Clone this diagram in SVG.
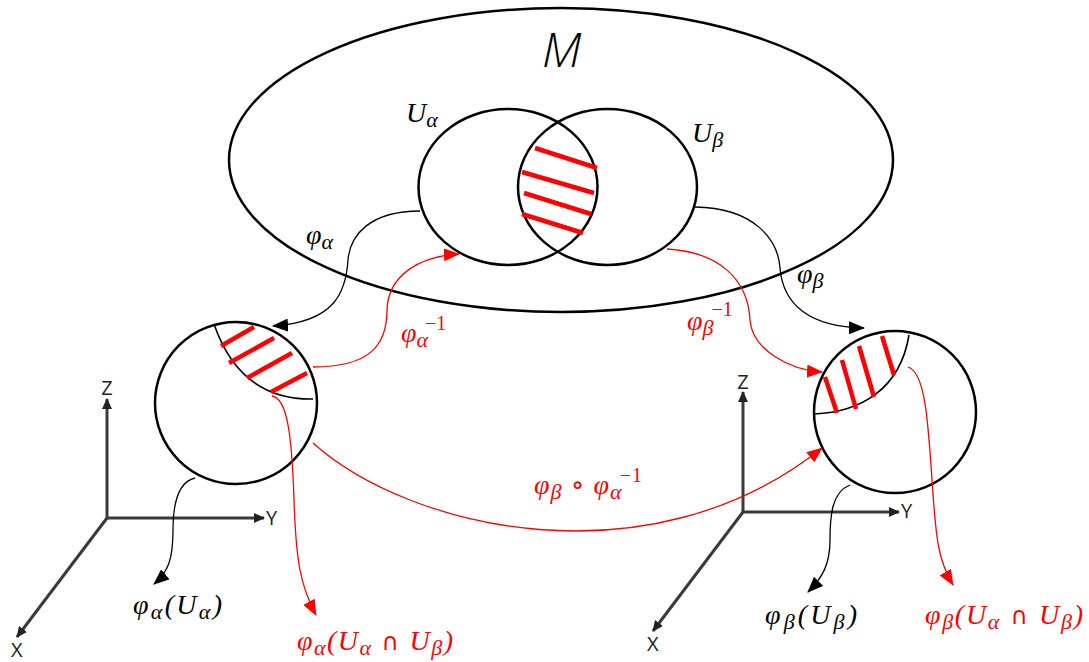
<svg xmlns="http://www.w3.org/2000/svg" width="1089" height="662" viewBox="0 0 1089 662">
<defs>
<style>
.shape{fill:none;stroke:#000;stroke-width:2.5}
.inner{fill:none;stroke:#000;stroke-width:1.6}
.hatch{stroke:#ff0000;stroke-width:4.5;stroke-linecap:butt}
.conb{fill:none;stroke:#000;stroke-width:1.3}
.conr{fill:none;stroke:#ff0000;stroke-width:1.3}
.axis{fill:none;stroke:#3a3a3a;stroke-width:3}
.math{font-family:"Liberation Serif","DejaVu Serif",serif;font-style:italic;font-size:28px}
.sub{font-size:22px}
.sup{font-size:20px;font-style:normal}
.op{font-family:"DejaVu Sans",sans-serif;font-style:normal;font-size:24px}
.axl{font-family:"Open Sans","Noto Sans",sans-serif;font-size:20px;fill:#222}
.red{fill:#ff0000}
</style>
<marker id="ab" markerWidth="16" markerHeight="13" refX="15" refY="6.5" orient="auto" markerUnits="userSpaceOnUse"><path d="M0,0 L16,6.5 L0,13 z" fill="#000"/></marker>
<marker id="ar" markerWidth="16" markerHeight="13" refX="15" refY="6.5" orient="auto" markerUnits="userSpaceOnUse"><path d="M0,0 L16,6.5 L0,13 z" fill="#ff0000"/></marker>
<marker id="ax" markerWidth="11" markerHeight="10" refX="10" refY="5" orient="auto" markerUnits="userSpaceOnUse"><path d="M0,0 L11,5 L0,10 z" fill="#222"/></marker>
</defs>
<rect width="1089" height="662" fill="#fff"/>

<g id="manifold">
<ellipse class="shape" cx="561" cy="160" rx="332" ry="152"/>
<text x="542" y="67" font-family="'Open Sans','Noto Sans',sans-serif" font-style="italic" font-size="48" font-weight="300">M</text>
</g>

<g id="U-alpha">
<ellipse class="shape" cx="508" cy="187" rx="89.5" ry="78"/>
<text class="math" x="406" y="122">U<tspan class="sub" dy="5">α</tspan></text>
</g>

<g id="U-beta">
<ellipse class="shape" cx="607.5" cy="187" rx="89.5" ry="78"/>
<text class="math" x="692" y="142">U<tspan class="sub" dy="5">β</tspan></text>
</g>

<g id="overlap-hatch">
<line class="hatch" x1="535" y1="148" x2="597" y2="168"/>
<line class="hatch" x1="522" y1="172" x2="594" y2="193"/>
<line class="hatch" x1="524" y1="193" x2="591" y2="214"/>
<line class="hatch" x1="522" y1="214" x2="583" y2="233"/>
</g>

<g id="chart-alpha">
<circle class="shape" cx="236" cy="403" r="81"/>
<path class="inner" d="M214,324 Q240,400 313,399"/>
<line class="hatch" x1="221" y1="346" x2="254" y2="327"/>
<line class="hatch" x1="229" y1="363" x2="274" y2="338"/>
<line class="hatch" x1="247" y1="378" x2="292" y2="353"/>
<line class="hatch" x1="271" y1="392" x2="307" y2="373"/>
</g>

<g id="chart-beta">
<circle class="shape" cx="895" cy="412" r="81"/>
<path class="inner" d="M909,335 C900,390 860,412 814,414"/>
<line class="hatch" x1="825" y1="377" x2="837" y2="413"/>
<line class="hatch" x1="842" y1="360" x2="856" y2="409"/>
<line class="hatch" x1="859" y1="346" x2="874" y2="397"/>
<line class="hatch" x1="882" y1="336" x2="894" y2="375"/>
</g>

<g id="axes-alpha">
<line class="axis" x1="107" y1="518" x2="107" y2="399" marker-end="url(#ax)"/>
<line class="axis" x1="107" y1="518" x2="264" y2="518" marker-end="url(#ax)"/>
<line class="axis" x1="107" y1="518" x2="17" y2="637" marker-end="url(#ax)"/>
<text class="axl" x="107" y="395" text-anchor="middle">Z</text>
<text class="axl" x="266" y="525">Y</text>
<text class="axl" x="11" y="657">X</text>
</g>

<g id="axes-beta">
<line class="axis" x1="743" y1="512" x2="743" y2="392" marker-end="url(#ax)"/>
<line class="axis" x1="743" y1="512" x2="899" y2="512" marker-end="url(#ax)"/>
<line class="axis" x1="743" y1="512" x2="653" y2="631" marker-end="url(#ax)"/>
<text class="axl" x="743" y="389" text-anchor="middle">Z</text>
<text class="axl" x="901" y="518">Y</text>
<text class="axl" x="647" y="651">X</text>
</g>

<g id="connectors">
<path class="conb" d="M420,211 C370,211 350,235 348,260 C346,292 335,322 273,326" marker-end="url(#ab)"/>
<path class="conb" d="M695,207 C755,208 778,240 780,268 C783,305 810,327 864,328" marker-end="url(#ab)"/>
<path class="conr" d="M313,367 C370,367 387,345 387,310 C388,275 420,256 459,254" marker-end="url(#ar)"/>
<path class="conr" d="M667,249 C720,252 748,280 750,320 C752,350 790,370 822,372" marker-end="url(#ar)"/>
<path class="conr" d="M313,443 C410,530 650,585 822,448" marker-end="url(#ar)"/>
<path class="conr" d="M272,396 C288,398 292,440 294,500 C296,560 300,585 316,615" marker-end="url(#ar)"/>
<path class="conb" d="M195,478 C178,482 173,505 173,530 C173,560 168,572 154,584" marker-end="url(#ab)"/>
<path class="conb" d="M850,485 C832,492 830,515 830,540 C830,565 822,578 808,592" marker-end="url(#ab)"/>
<path class="conr" d="M908,367 C925,372 928,420 932,480 C936,540 938,560 953,585" marker-end="url(#ar)"/>
</g>

<g id="labels">
<text class="math" x="306" y="244">φ<tspan class="sub" dy="5">α</tspan></text>
<text class="math" x="797" y="283">φ<tspan class="sub" dy="5">β</tspan></text>
<text class="math red" x="401" y="342">φ<tspan class="sub" dy="5">α</tspan><tspan class="sup" dx="-3" dy="-17">−1</tspan></text>
<text class="math red" x="687" y="330">φ<tspan class="sub" dy="5">β</tspan><tspan class="sup" dx="-2" dy="-19">−1</tspan></text>
<text class="math red" x="534" y="494" textLength="108" lengthAdjust="spacing">φ<tspan class="sub" dy="5">β</tspan><tspan dy="-5"> ∘ φ</tspan><tspan class="sub" dy="5">α</tspan><tspan class="sup" dx="-3" dy="-17">−1</tspan></text>
<text class="math" x="133" y="614" textLength="89" lengthAdjust="spacing">φ<tspan class="sub" dy="5">α</tspan><tspan dy="-5">(U</tspan><tspan class="sub" dy="5">α</tspan><tspan dy="-5">)</tspan></text>
<text class="math red" x="297" y="650" textLength="156" lengthAdjust="spacing">φ<tspan class="sub" dy="5">α</tspan><tspan dy="-5">(U</tspan><tspan class="sub" dy="5">α</tspan><tspan class="op" dy="-5"> ∩ </tspan><tspan>U</tspan><tspan class="sub" dy="5">β</tspan><tspan dy="-5">)</tspan></text>
<text class="math" x="765" y="624" textLength="92" lengthAdjust="spacing">φ<tspan class="sub" dy="5">β</tspan><tspan dy="-5">(U</tspan><tspan class="sub" dy="5">β</tspan><tspan dy="-5">)</tspan></text>
<text class="math red" x="925" y="624" textLength="158" lengthAdjust="spacing">φ<tspan class="sub" dy="5">β</tspan><tspan dy="-5">(U</tspan><tspan class="sub" dy="5">α</tspan><tspan class="op" dy="-5"> ∩ </tspan><tspan>U</tspan><tspan class="sub" dy="5">β</tspan><tspan dy="-5">)</tspan></text>
</g>
</svg>
